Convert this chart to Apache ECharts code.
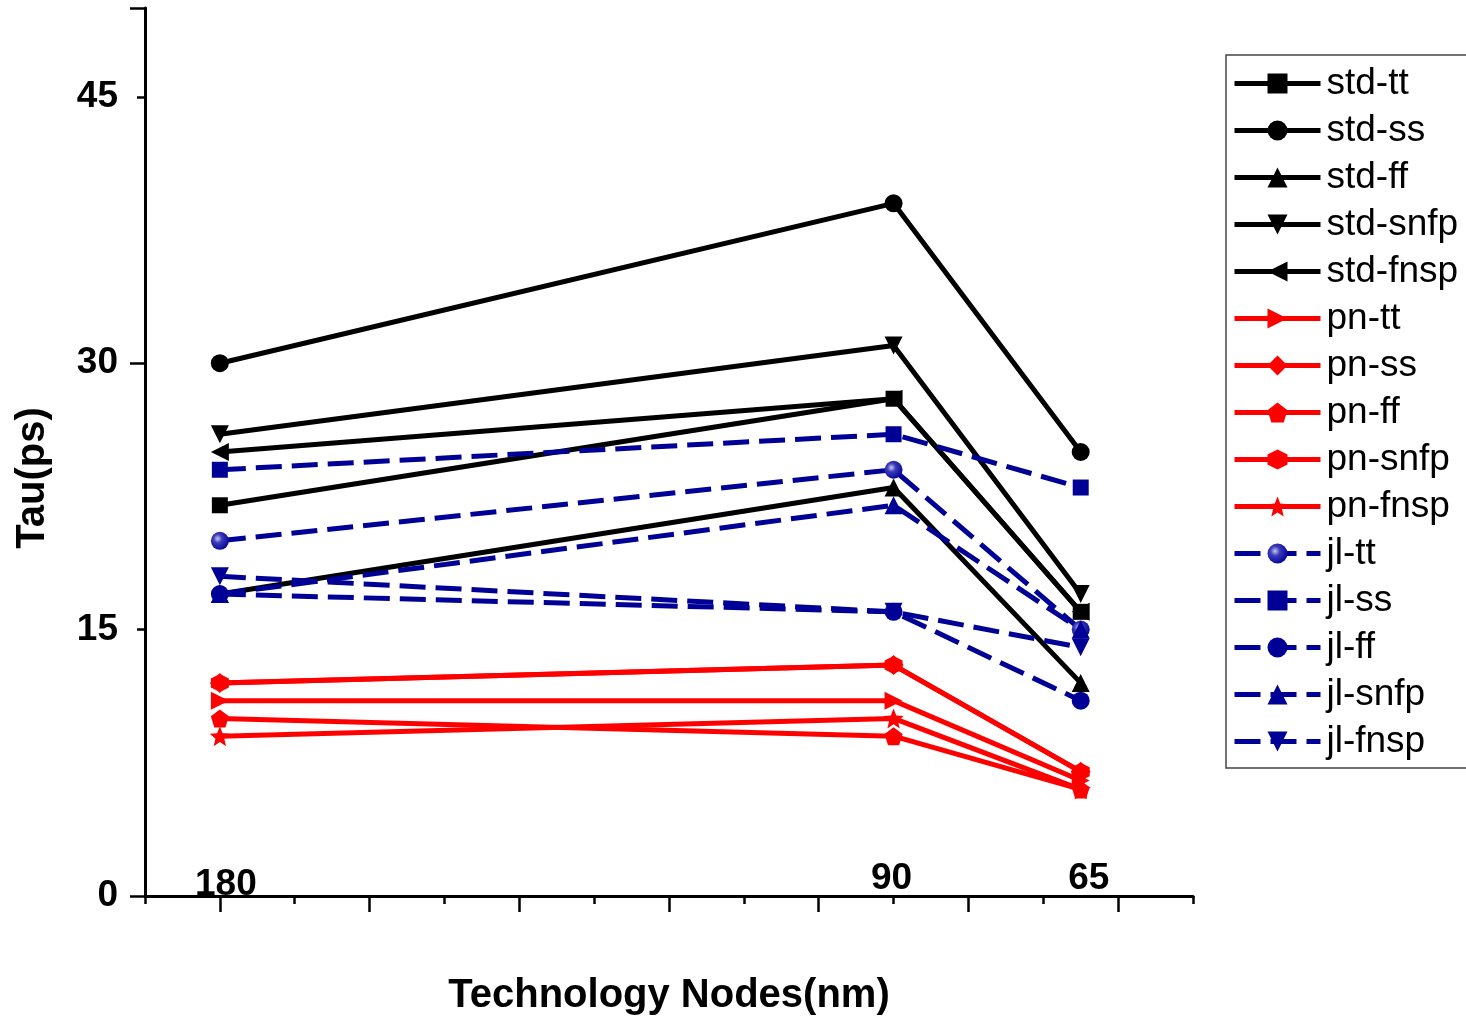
<!DOCTYPE html>
<html>
<head>
<meta charset="utf-8">
<script src="https://cdn.jsdelivr.net/npm/echarts@6/dist/echarts.min.js"></script>
<style>
html,body{margin:0;padding:0;background:#fff;}
#chart{width:1466px;height:1021px;}
</style>
</head>
<body>
<div id="chart"></div>
<script>
// ---- data ----
const nodes = [180, 90, 65];
const nodeLabels = ['180', '90', '65'];
const yTicks = [0, 15, 30, 45];
const xMajorTicks = [60, 80, 100, 120, 140, 160, 180];
const xMinorTicks = [50, 70, 90, 110, 130, 150, 170, 190];

const stdTT   = [22, 28, 16];
const stdSS   = [30, 39, 25];
const stdFF   = [17, 23, 12];
const stdSNFP = [26, 31, 17];
const stdFNSP = [25, 28, 16];
const pnTT    = [11, 11, 6.5];
const pnSS    = [12, 13, 7];
const pnFF    = [10, 9, 6];
const pnSNFP  = [12, 13, 7];
const pnFNSP  = [9, 10, 6];
const jlTT    = [20, 24, 15];
const jlSS    = [24, 26, 23];
const jlFF    = [17, 16, 11];
const jlSNFP  = [17, 22, 15];
const jlFNSP  = [18, 16, 14];

// ---- styles ----
const FONT = '"Liberation Sans", Arial, sans-serif';
const BLACK = '#000000', RED = '#ff0000', BLUE = '#000096';
const SYM = {
  square: 'rect',
  circle: 'circle',
  up: 'path://M0,-1L1,1L-1,1Z',
  down: 'path://M0,1L-1,-1L1,-1Z',
  left: 'path://M-1,0L1,-1L1,1Z',
  right: 'path://M1,0L-1,-1L-1,1Z',
  diamond: 'diamond',
  pentagon: 'path://M0,-1L0.951,-0.309L0.588,0.809L-0.588,0.809L-0.951,-0.309Z',
  hexagon: 'path://M0,-1L0.866,-0.5L0.866,0.5L0,1L-0.866,0.5L-0.866,-0.5Z',
  star: 'path://M0,-1L0.26,-0.36L0.951,-0.309L0.42,0.137L0.588,0.809L0,0.44L-0.588,0.809L-0.42,0.137L-0.951,-0.309L-0.26,-0.36Z'
};
const sphere = {
  type: 'radial', x: 0.38, y: 0.38, r: 0.7,
  colorStops: [{offset: 0, color: '#c8c8f0'}, {offset: 0.35, color: '#3a3ab8'}, {offset: 1, color: BLUE}]
};

const seriesDefs = [
  {name: 'std-tt',   data: stdTT,   color: BLACK, sym: SYM.square,   size: 16, dash: false},
  {name: 'std-ss',   data: stdSS,   color: BLACK, sym: SYM.circle,   size: 18, dash: false},
  {name: 'std-ff',   data: stdFF,   color: BLACK, sym: SYM.up,       size: 18, dash: false},
  {name: 'std-snfp', data: stdSNFP, color: BLACK, sym: SYM.down,     size: 18, dash: false},
  {name: 'std-fnsp', data: stdFNSP, color: BLACK, sym: SYM.left,     size: 18, dash: false},
  {name: 'pn-tt',    data: pnTT,    color: RED,   sym: SYM.right,    size: 18, dash: false},
  {name: 'pn-ss',    data: pnSS,    color: RED,   sym: SYM.diamond,  size: 20, dash: false},
  {name: 'pn-ff',    data: pnFF,    color: RED,   sym: SYM.pentagon, size: 18, dash: false},
  {name: 'pn-snfp',  data: pnSNFP,  color: RED,   sym: SYM.hexagon,  size: 18, dash: false},
  {name: 'pn-fnsp',  data: pnFNSP,  color: RED,   sym: SYM.star,     size: 20, dash: false},
  {name: 'jl-tt',    data: jlTT,    color: BLUE,  sym: SYM.circle,   size: 18, dash: true, fill: sphere},
  {name: 'jl-ss',    data: jlSS,    color: BLUE,  sym: SYM.square,   size: 16, dash: true},
  {name: 'jl-ff',    data: jlFF,    color: BLUE,  sym: SYM.circle,   size: 18, dash: true},
  {name: 'jl-snfp',  data: jlSNFP,  color: BLUE,  sym: SYM.up,       size: 18, dash: true},
  {name: 'jl-fnsp',  data: jlFNSP,  color: BLUE,  sym: SYM.down,     size: 18, dash: true}
];
const nodeLabelOffsets = [[6, 8], [-2, 2], [8, 2]];

const series = seriesDefs.map(d => ({
  name: d.name,
  type: 'line',
  xAxisIndex: 0,
  data: nodes.map((n, i) => [n, d.data[i]]),
  symbol: d.sym,
  symbolSize: d.size,
  symbolKeepAspect: false,
  showAllSymbol: true,
  clip: false,
  itemStyle: {color: d.fill || d.color, borderWidth: 0},
  lineStyle: {color: d.color, width: 5, type: d.dash ? [26, 10] : 'solid'},
  emphasis: {disabled: true}
}));

series.push({
  type: 'scatter',
  name: 'nodes',
  xAxisIndex: 0,
  data: nodes.map(n => [n, 0]),
  symbol: 'circle',
  symbolSize: 2,
  itemStyle: {color: 'rgba(0,0,0,0)', opacity: 1},
  clip: false,
  silent: true,
  z: 10,
  label: {
    show: true, position: 'top', distance: 0,
    formatter: p => nodeLabels[p.dataIndex],
    fontFamily: FONT, fontWeight: 'bold', fontSize: 37, color: '#000000'
  },
  labelLayout: p => ({dx: nodeLabelOffsets[p.dataIndex][0], dy: nodeLabelOffsets[p.dataIndex][1], hideOverlap: false})
});

const chart = echarts.init(document.getElementById('chart'), null, {renderer: 'canvas'});
chart.setOption({
  animation: false,
  backgroundColor: '#fff',
  grid: {left: 145, top: 8, right: 273, bottom: 122, containLabel: false},
  legend: {
    orient: 'vertical',
    left: 1226, top: 55,
    data: seriesDefs.map(d => d.name),
    selectedMode: false,
    itemWidth: 86, itemHeight: 25, itemGap: 10,
    padding: [10, 40, 8, 6],
    borderColor: '#444', borderWidth: 1.5,
    lineStyle: {width: 5},
    textStyle: {fontFamily: FONT, fontSize: 37, lineHeight: 36, height: 36, color: '#000', padding: [0, 0, 0, 1]}
  },
  xAxis: [{
    type: 'value', min: 50, max: 190, inverse: true,
    position: 'bottom',
    name: 'Technology Nodes(nm)', nameLocation: 'middle', nameGap: 80,
    nameTextStyle: {fontFamily: FONT, fontWeight: 'bold', fontSize: 40, color: '#000'},
    axisLine: {show: true, onZero: false, lineStyle: {color: '#000', width: 3}},
    axisTick: {show: true, inside: false, length: 16, customValues: xMajorTicks, lineStyle: {color: '#000', width: 2.5}},
    axisLabel: {show: false},
    splitLine: {show: false}
  }, {
    type: 'value', min: 50, max: 190, inverse: true,
    position: 'bottom', offset: 0,
    axisLine: {show: false},
    axisTick: {show: true, inside: false, length: 8, customValues: xMinorTicks, lineStyle: {color: '#000', width: 2.5}},
    axisLabel: {show: false},
    splitLine: {show: false}
  }],
  yAxis: {
    type: 'value', min: 0, max: 50, interval: 30,
    name: 'Tau(ps)', nameLocation: 'middle', nameGap: 92,
    nameTextStyle: {fontFamily: FONT, fontWeight: 'bold', fontSize: 40, color: '#000', padding: [0, 52, 0, 0]},
    axisLine: {show: true, lineStyle: {color: '#000', width: 3}},
    axisTick: {show: true, length: 15, lineStyle: {color: '#000', width: 2.5}},
    minorTick: {show: true, splitNumber: 2, length: 8, lineStyle: {color: '#000', width: 2.5}},
    axisLabel: {show: true, customValues: yTicks, margin: 27, fontFamily: FONT, fontWeight: 'bold', fontSize: 37, color: '#000'},
    splitLine: {show: false},
    minorSplitLine: {show: false}
  },
  series: series
});
</script>
</body>
</html>
